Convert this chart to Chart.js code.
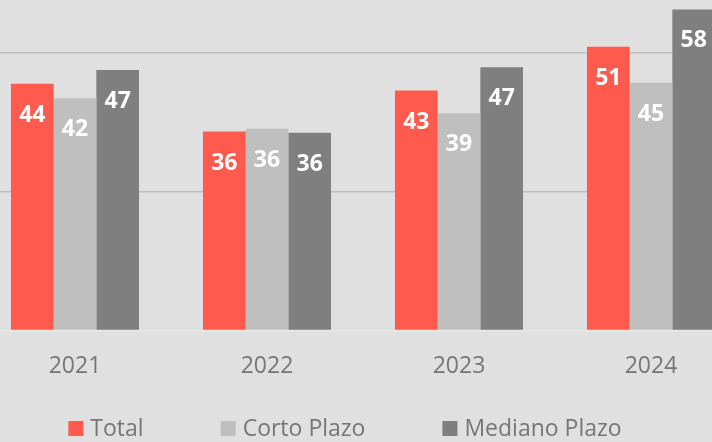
<!DOCTYPE html>
<html>
<head>
<meta charset="utf-8">
<script src="https://cdn.jsdelivr.net/npm/chart.js@4"></script>
<style>
  html, body { margin: 0; padding: 0; background: #e0e0e0; overflow: hidden; }
  #wrap { position: absolute; left: -53px; top: 0; width: 800px; height: 442px; }
</style>
</head>
<body>
<div id="wrap"><canvas id="chart"></canvas></div>
<script>
// data
const years = ["2021", "2022", "2023", "2024"];
const total = [44.4, 35.8, 43.2, 51.1];
const cortoPlazo = [41.8, 36.3, 39.1, 44.6];
const medianoPlazo = [46.9, 35.6, 47.4, 57.8];
const gridTicks = [0, 25, 50];

const FONT = "'Open Sans', sans-serif";

// white value labels inside the top of each bar
const valueLabels = {
    id: "valueLabels",
    afterDatasetsDraw(chart) {
        const ctx = chart.ctx;
        ctx.save();
        ctx.fillStyle = "#ffffff";
        ctx.font = "bold 23px " + FONT;
        ctx.textAlign = "center";
        ctx.textBaseline = "alphabetic";
        chart.data.datasets.forEach((ds, i) => {
            chart.getDatasetMeta(i).data.forEach((bar, j) => {
                ctx.fillText(Math.round(ds.data[j]), bar.x, bar.y + 38);
            });
        });
        ctx.restore();
    }
};

// legend drawn by hand so the spacing matches
const bottomLegend = {
    id: "bottomLegend",
    afterDraw(chart) {
        const ctx = chart.ctx;
        const box = 15, gap = 7, itemGap = 77;
        ctx.save();
        ctx.font = "23px " + FONT;
        const items = chart.data.datasets.map(ds => ({
            label: ds.label, color: ds.backgroundColor, w: ctx.measureText(ds.label).width
        }));
        let width = items.reduce((s, it) => s + box + gap + it.w, 0) + itemGap * (items.length - 1);
        let x = 398 - width / 2;
        const y = 428.5;
        ctx.textBaseline = "middle";
        ctx.textAlign = "left";
        items.forEach(it => {
            ctx.fillStyle = it.color;
            ctx.fillRect(x, y - box / 2, box, box);
            ctx.fillStyle = "#767676";
            ctx.fillText(it.label, x + box + gap, y + 1);
            x += box + gap + it.w + itemGap;
        });
        ctx.restore();
    }
};

new Chart(document.getElementById("chart"), {
    type: "bar",
    data: {
        labels: years,
        datasets: [
            { label: "Total", data: total, backgroundColor: "#ff5a4e" },
            { label: "Corto Plazo", data: cortoPlazo, backgroundColor: "#bfbfbf" },
            { label: "Mediano Plazo", data: medianoPlazo, backgroundColor: "#7f7f7f" }
        ]
    },
    options: {
        responsive: true,
        maintainAspectRatio: false,
        animation: false,
        layout: { padding: { top: 0, bottom: 40, left: 0, right: 0 } },
        datasets: { bar: { categoryPercentage: 0.667, barPercentage: 1 } },
        plugins: { legend: { display: false }, tooltip: { enabled: false } },
        scales: {
            x: {
                grid: { display: false, drawTicks: false },
                border: { display: false },
                ticks: { color: "#767676", font: { family: FONT, size: 23 }, padding: 22 }
            },
            y: {
                min: 0,
                max: 59.5,
                afterBuildTicks: scale => { scale.ticks = gridTicks.map(v => ({ value: v })); },
                afterFit: scale => { scale.width = 32; },
                ticks: { display: false },
                border: { display: false },
                grid: {
                    drawTicks: false,
                    lineWidth: 1.5,
                    color: c => c.tick.value === 0 ? "#e8e8e8" : "#bdbdbd"
                }
            }
        }
    },
    plugins: [valueLabels, bottomLegend]
});
</script>
</body>
</html>
